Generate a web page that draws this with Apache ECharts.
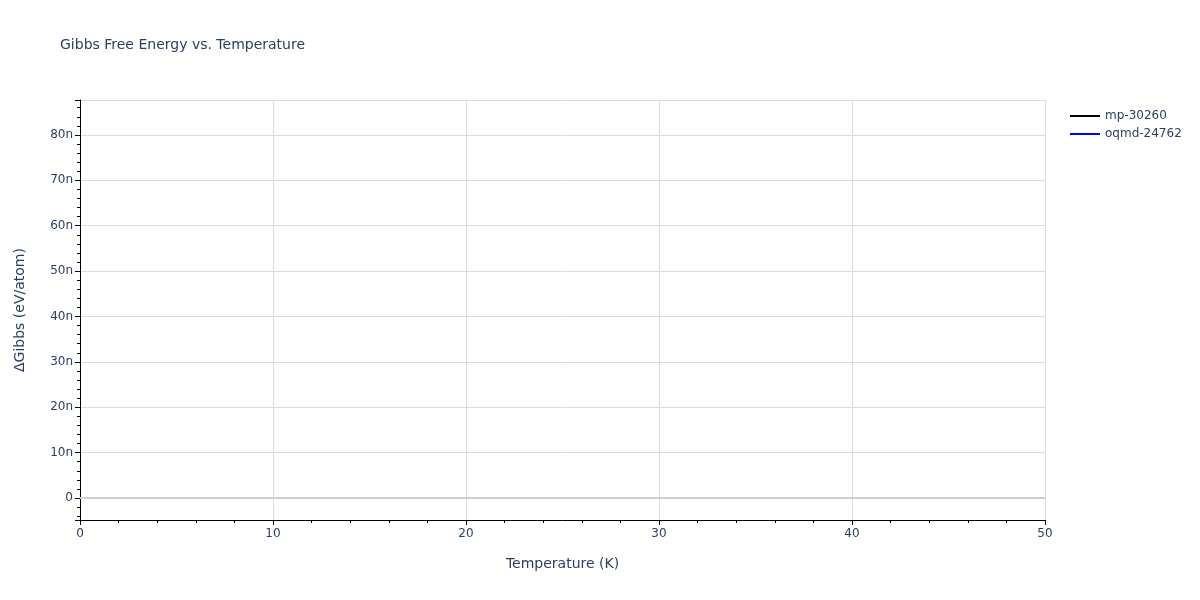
<!DOCTYPE html>
<html>
<head>
<meta charset="utf-8">
<script src="https://cdn.jsdelivr.net/npm/echarts@6/dist/echarts.min.js"></script>
<style>html,body{margin:0;padding:0;background:#fff}#c{width:1200px;height:600px}</style>
</head>
<body>
<div id="c"></div>
<script>
// Data (values in eV/atom); series are single-sample, so no line is drawn
const temperatures = [0];
const mpValues = [0];
const oqmdValues = [0];
const seriesNames = ['mp-30260', 'oqmd-24762'];
const xTicks = [0, 10, 20, 30, 40, 50];

const toNano = v => v * 1e9;
const txt = '#2a3f5f';
const font = '"DejaVu Sans", Verdana, sans-serif';

const chart = echarts.init(document.getElementById('c'), null, {renderer: 'canvas'});
chart.setOption({
  backgroundColor: '#fff',
  animation: false,
  textStyle: {fontFamily: font},
  title: {
    text: 'Gibbs Free Energy vs. Temperature',
    left: 60, top: 38, padding: 0,
    textStyle: {fontFamily: font, fontSize: 14, fontWeight: 'normal', color: txt}
  },
  legend: {
    orient: 'vertical', left: 1070, top: 110, padding: 0,
    itemWidth: 30, itemHeight: 2, itemGap: 6, icon: 'rect',
    textStyle: {fontFamily: font, fontSize: 12, color: txt},
    data: seriesNames
  },
  grid: {left: 80, right: 155, top: 100, bottom: 80, containLabel: false},
  xAxis: {
    type: 'value', min: xTicks[0], max: xTicks[xTicks.length - 1], interval: 10,
    name: 'Temperature (K)', nameLocation: 'middle', nameGap: 37,
    nameTextStyle: {fontFamily: font, fontSize: 14, color: txt},
    axisLine: {show: true, onZero: false, lineStyle: {color: '#000', width: 1}},
    axisTick: {show: true, length: 5, lineStyle: {color: '#000'}},
    minorTick: {show: true, splitNumber: 5, length: 3, lineStyle: {color: '#000'}},
    axisLabel: {fontFamily: font, fontSize: 12, color: txt, margin: 8},
    splitLine: {show: true, lineStyle: {color: '#dcdcdc', width: 1}}
  },
  yAxis: {
    type: 'value', min: -4.85, max: 87.7, splitNumber: 9,
    name: 'ΔGibbs (eV/atom)', nameLocation: 'middle', nameGap: 53,
    nameTextStyle: {fontFamily: font, fontSize: 14, color: txt},
    axisLine: {show: true, onZero: false, lineStyle: {color: '#000', width: 1}},
    axisTick: {show: true, length: 5, lineStyle: {color: '#000'}},
    minorTick: {show: true, splitNumber: 5, length: 3, lineStyle: {color: '#000'}},
    axisLabel: {
      fontFamily: font, fontSize: 12, color: txt, margin: 7,
      showMinLabel: false, showMaxLabel: false,
      formatter: v => (Math.abs(v) < 1e-9 ? '0' : Math.round(v) + 'n')
    },
    splitLine: {show: true, lineStyle: {color: '#dcdcdc', width: 1}}
  },
  series: [
    {
      name: seriesNames[0], type: 'line', showSymbol: false,
      color: '#000', lineStyle: {color: '#000', width: 2},
      data: temperatures.map((t, i) => [t, toNano(mpValues[i])]),
      markLine: {
        silent: true, symbol: 'none', label: {show: false},
        lineStyle: {color: '#cfcfcf', width: 2, type: 'solid'},
        data: [{yAxis: 0}]
      },
      z: 3
    },
    {
      name: seriesNames[1], type: 'line', showSymbol: false,
      color: '#0000ff', lineStyle: {color: '#0000ff', width: 2},
      data: temperatures.map((t, i) => [t, toNano(oqmdValues[i])]),
      z: 3
    }
  ]
});
</script>
</body>
</html>
